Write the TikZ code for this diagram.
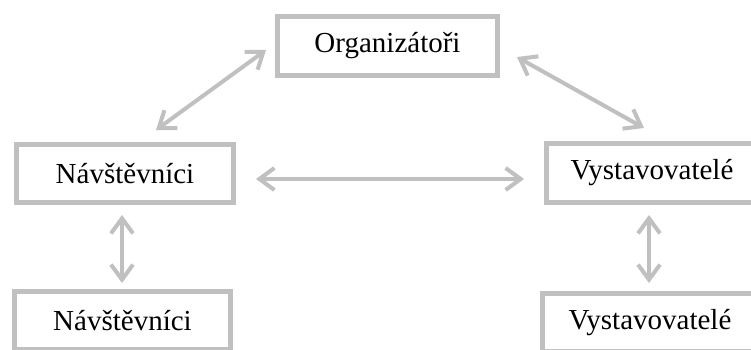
\documentclass[tikz,border=0pt]{standalone}
\usepackage{fontspec}
\setmainfont{Liberation Serif}
\usetikzlibrary{arrows.meta}
\definecolor{lgray}{RGB}{192,192,192}
\begin{document}
\begin{tikzpicture}[x=1pt,y=1pt,
  box/.style={draw=lgray,line width=5pt,fill=white,inner sep=0pt,
    font=\fontsize{29}{34}\selectfont},
  conn/.style={draw=lgray,line width=4pt,
    {Straight Barb[length=15pt,width=22pt]}-{Straight Barb[length=15pt,width=22pt]}}]
\clip (0,0) rectangle (751,349);
\fill[white] (0,0) rectangle (751,349);
\node[box,minimum width=220pt,minimum height=59pt] (org) at (387.5,303) {Organizátoři};
\node[box,minimum width=217pt,minimum height=58pt] (nl) at (125,175.5) {Návštěvníci};
\node[box,minimum width=211pt,minimum height=59pt] (nr) at (652,176) {Vystavovatelé};
\node[box,minimum width=216pt,minimum height=58pt] (bl) at (122.5,28.5) {Návštěvníci};
\node[box,minimum width=215pt,minimum height=58pt] (br) at (650,26.5) {Vystavovatelé};
\coordinate (a1s) at (266,299);
\coordinate (a1e) at (156,219);
\coordinate (a2s) at (517,292);
\coordinate (a2e) at (644,221);
\coordinate (a3s) at (256,170);
\coordinate (a3e) at (524,170);
\coordinate (a4s) at (122,134);
\coordinate (a4e) at (122,66);
\coordinate (a5s) at (649,134);
\coordinate (a5e) at (649,66);
\draw[conn] (a1s) -- (a1e);
\draw[conn] (a2s) -- (a2e);
\draw[conn] (a3s) -- (a3e);
\draw[conn] (a4s) -- (a4e);
\draw[conn] (a5s) -- (a5e);
\end{tikzpicture}
\end{document}
